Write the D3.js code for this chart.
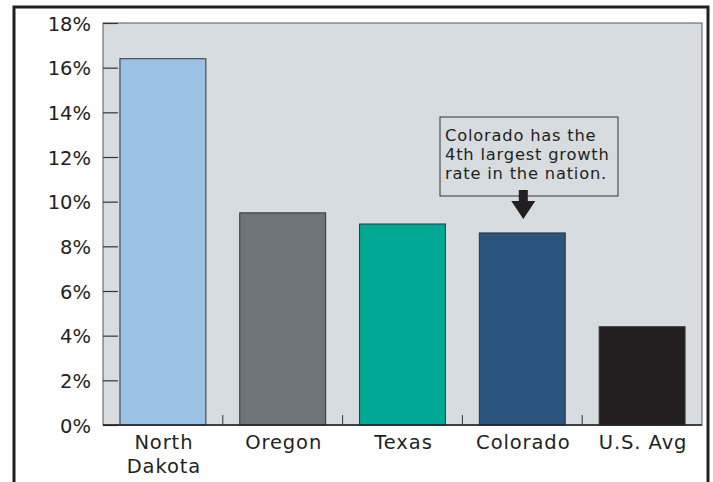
<!DOCTYPE html>
<html><head><meta charset="utf-8">
<script src="https://cdn.jsdelivr.net/npm/d3@7"></script>
<style>body{margin:0;background:#fff}svg{display:block}text{font-family:"DejaVu Sans",sans-serif;fill:#231f20}</style>
</head><body><svg id="c" width="713" height="482"></svg>
<script>
const categories = ["North Dakota","Oregon","Texas","Colorado","U.S. Avg"];
const labelLines = [["North","Dakota"],["Oregon"],["Texas"],["Colorado"],["U.S. Avg"]];
const growth = [16.4, 9.5, 9.0, 8.6, 4.4];
const colors = ["#9bc1e6","#6f737a","#00a896","#2b547e","#231f20"];
const yTicks = [0,2,4,6,8,10,12,14,16,18];
const note = ["Colorado has the","4th largest growth","rate in the nation."];

const svg = d3.select("#c");
const L=103, R=702, T=23, B=425;
const x = d3.scaleBand().domain(categories).range([L,R]).paddingInner(0.283).paddingOuter(0.1415);
const y = d3.scaleLinear().domain([0,18]).range([B,T]);

// outer frame
svg.append("rect").attr("x",14).attr("y",7).attr("width",694).attr("height",490)
  .attr("fill","none").attr("stroke","#231f20").attr("stroke-width",3);

// plot background
svg.append("rect").attr("x",L).attr("y",T).attr("width",R-L).attr("height",B-T)
  .attr("fill","#d7dce0").attr("stroke","#58595b").attr("stroke-width",1);

// y axis
const ya = svg.append("g").attr("transform",`translate(${L},0)`)
  .call(d3.axisLeft(y).tickValues(yTicks).tickFormat(d=>d+"%").tickSize(-15).tickPadding(12));
ya.select(".domain").remove();
ya.selectAll("line").attr("stroke","#333").attr("stroke-width",1.2);
ya.selectAll("text").attr("font-size",19.5).attr("font-family","DejaVu Sans").attr("fill","#231f20")
  .attr("dy","0.36em");

// bars
svg.selectAll("rect.bar").data(categories).join("rect").attr("class","bar")
  .attr("x",d=>x(d)).attr("width",x.bandwidth())
  .attr("y",(d,i)=>y(growth[i])).attr("height",(d,i)=>B-y(growth[i]))
  .attr("fill",(d,i)=>colors[i]).attr("stroke","#333").attr("stroke-width",1);

// bottom axis line
svg.append("line").attr("x1",L).attr("x2",R).attr("y1",B).attr("y2",B).attr("stroke","#231f20").attr("stroke-width",1.5);

// x separators
const step = x.step();
categories.slice(1).forEach((c,i)=>{
  const xx = x(c) - (step - x.bandwidth())/2;
  svg.append("line").attr("x1",xx).attr("x2",xx).attr("y1",B).attr("y2",B-10).attr("stroke","#333").attr("stroke-width",1);
});

// x labels
categories.forEach((c,i)=>{
  const cx = x(c)+x.bandwidth()/2 + 1;
  const t = svg.append("text").attr("text-anchor","middle").attr("font-size",19.5).attr("letter-spacing",0.9)
    .attr("transform",`translate(${cx},449)`);
  labelLines[i].forEach((ln,j)=>t.append("tspan").attr("x",0).attr("y",j*23.7).text(ln));
});

// annotation
svg.append("rect").attr("x",440).attr("y",117).attr("width",178).attr("height",79)
  .attr("fill","none").attr("stroke","#333").attr("stroke-width",1);
const nt = svg.append("text").attr("font-size",16.3).attr("letter-spacing",0.8)
  .attr("transform","translate(445,140.5)");
note.forEach((ln,j)=>nt.append("tspan").attr("x",0).attr("y",j*19.3).text(ln));
const ax = x("Colorado")+x.bandwidth()/2+1;
svg.append("path").attr("d",`M${ax-4.5},190 L${ax+4.5},190 L${ax+4.5},201 L${ax+12},201 L${ax},219 L${ax-12},201 L${ax-4.5},201 Z`)
  .attr("fill","#231f20");
</script></body></html>
